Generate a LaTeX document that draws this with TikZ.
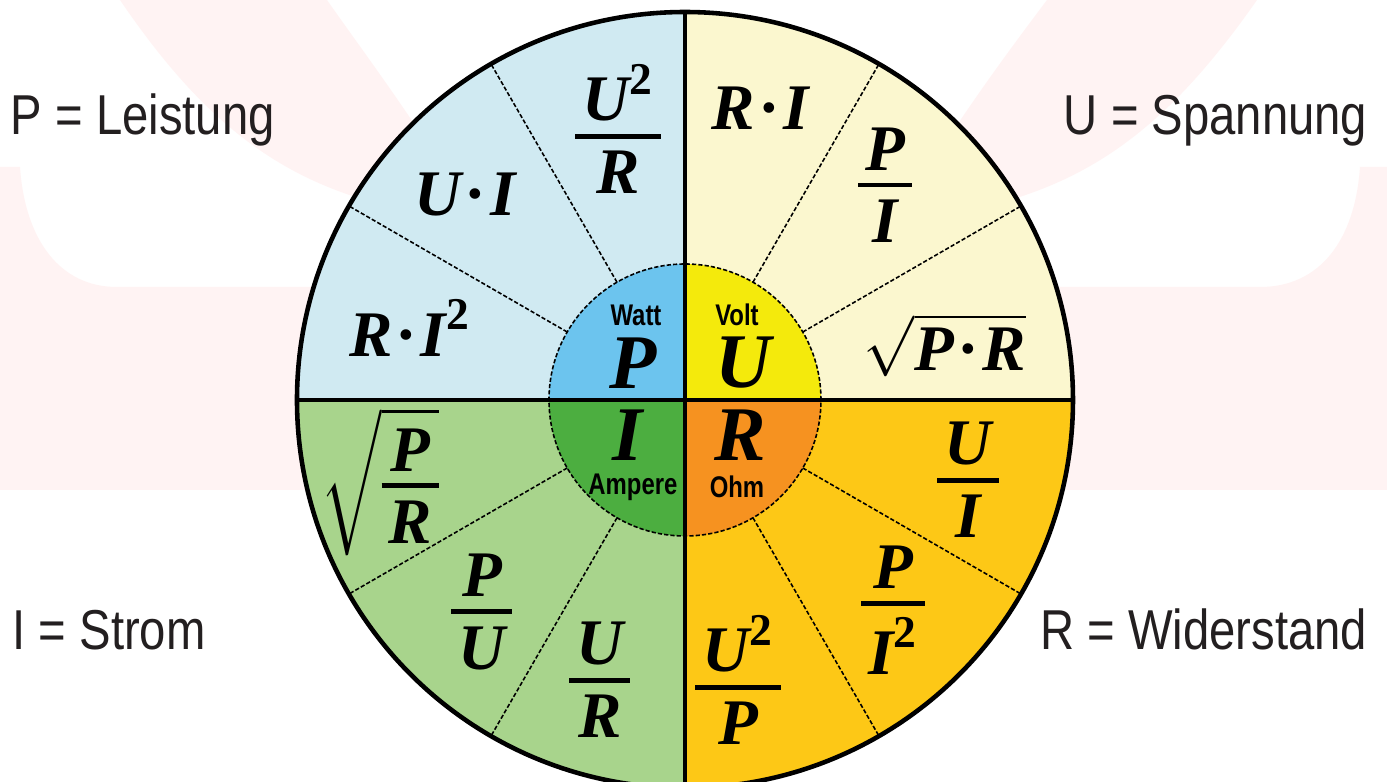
\documentclass[tikz,border=0pt]{standalone}
\usepackage{amsmath}
\usepackage{fontspec}
\setmainfont{Liberation Serif}
\newfontfamily\legendfont[FakeStretch=0.84]{Liberation Sans}
\newfontfamily\unitfont[FakeStretch=0.8]{Liberation Sans}
\definecolor{wmpink}{RGB}{255,243,243}
\definecolor{quadblue}{RGB}{208,234,242}
\definecolor{quadyellow}{RGB}{251,247,207}
\definecolor{quadgreen}{RGB}{168,212,140}
\definecolor{quadgold}{RGB}{253,200,22}
\definecolor{hubblue}{RGB}{108,196,238}
\definecolor{hubyellow}{RGB}{244,234,12}
\definecolor{hubgreen}{RGB}{76,174,64}
\definecolor{huborange}{RGB}{246,146,32}
\definecolor{legendgray}{RGB}{35,31,32}

\newcommand{\fv}[1]{\text{\bfseries\itshape #1}}
\newcommand{\fsq}{^{\text{\bfseries 2}}}
\newcommand{\fdot}{\mkern1mu\text{\bfseries\textperiodcentered}\mkern1mu}
\newcommand{\ffrac}[2]{\vcenter{\halign{\hfil\kern2pt##\kern2pt\hfil\cr$#1$\cr\noalign{\kern3.5pt\hrule height 1.4pt\kern3.5pt}$#2$\cr}}}

\begin{document}
\begin{tikzpicture}[
  legend/.style={font=\legendfont\fontsize{16}{19}\selectfont, text=legendgray, inner sep=0pt},
  formula/.style={font=\fontsize{18.5}{22}\selectfont, inner sep=0pt},
  bigletter/.style={font=\fontsize{22}{26}\selectfont\bfseries\itshape, inner sep=0pt},
  unitlabel/.style={font=\unitfont\bfseries\fontsize{8.5}{10}\selectfont, inner sep=0pt},
  spoke/.style={line width=0.45pt, dash pattern=on 1.2pt off 0.6pt},
]
% Canvas (1cm = 100px, origin at the wheel centre)
\useasboundingbox (-6.85,-3.82) rectangle (7.02,4.00);
\fill[white] (-6.85,-3.82) rectangle (7.02,4.00);

% Watermark
\fill[wmpink] (-6.85,2.33) -- (-6.65,2.33) .. controls (-6.60,1.60) and (-6.25,1.13) .. (-5.68,1.13) -- (5.75,1.13) .. controls (6.35,1.13) and (6.70,1.60) .. (6.75,2.33) -- (7.02,2.33) -- (7.02,-0.90) -- (-6.85,-0.90) -- cycle;
\fill[wmpink] (-5.65,4.00) .. controls (-4.90,2.90) and (-4.20,2.30) .. (-3.20,2.00) -- (-2.00,1.80) -- (-2.60,2.60) .. controls (-3.00,3.20) and (-3.30,3.60) .. (-3.58,4.00) -- cycle;
\fill[wmpink] (5.72,4.00) .. controls (4.95,2.90) and (4.25,2.30) .. (3.25,2.00) -- (2.00,1.80) -- (2.62,2.60) .. controls (3.02,3.20) and (3.32,3.60) .. (3.62,4.00) -- cycle;

% Outer quadrants
\fill[quadyellow] (0,0) -- (0:3.88) arc[start angle=0, end angle=90, radius=3.88] -- cycle;
\fill[quadblue] (0,0) -- (90:3.88) arc[start angle=90, end angle=180, radius=3.88] -- cycle;
\fill[quadgreen] (0,0) -- (180:3.88) arc[start angle=180, end angle=270, radius=3.88] -- cycle;
\fill[quadgold] (0,0) -- (270:3.88) arc[start angle=270, end angle=360, radius=3.88] -- cycle;

% Hub quadrants
\fill[hubyellow] (0,0) -- (0:1.36) arc[start angle=0, end angle=90, radius=1.36] -- cycle;
\fill[hubblue] (0,0) -- (90:1.36) arc[start angle=90, end angle=180, radius=1.36] -- cycle;
\fill[hubgreen] (0,0) -- (180:1.36) arc[start angle=180, end angle=270, radius=1.36] -- cycle;
\fill[huborange] (0,0) -- (270:1.36) arc[start angle=270, end angle=360, radius=1.36] -- cycle;

% Rim and hub
\node[circle, draw, line width=1.3pt, minimum size=7.76cm, inner sep=0pt, outer sep=0pt] (rim) at (0,0) {};
\node[circle, draw, spoke, minimum size=2.72cm, inner sep=0pt, outer sep=0pt] (hub) at (0,0) {};

% Spokes
\foreach \a in {30,60,120,150,210,240,300,330}
  \draw[spoke] (hub.\a) -- (rim.\a);

% Axes
\draw[line width=0.9pt] (rim.west) -- (rim.east);
\draw[line width=0.9pt] (rim.south) -- (rim.north);

% Hub letters
\node[unitlabel] (unitP) at (-0.49,0.85) {Watt};
\node[bigletter] (hubP) at (-0.52,0.37) {P};
\node[unitlabel] (unitU) at (0.52,0.85) {Volt};
\node[bigletter] (hubU) at (0.58,0.37) {U};
\node[bigletter] (hubI) at (-0.57,-0.35) {I};
\node[unitlabel] (unitI) at (-0.52,-0.87) {Ampere};
\node[bigletter] (hubR) at (0.55,-0.35) {R};
\node[unitlabel] (unitR) at (0.52,-0.87) {Ohm};

% Power
\node[formula] (pUR) at (-0.67,2.71) {$\ffrac{\fv{U}\fsq}{\fv{R}}$};
\node[formula] (pUI) at (-2.20,2.05) {$\fv{U}\fdot\fv{I}$};
\node[formula] (pRI) at (-2.75,0.72) {$\fv{R}\fdot\fv{I}\fsq$};

% Voltage
\node[formula] (uRI) at (0.75,2.92) {$\fv{R}\fdot\fv{I}$};
\node[formula] (uPI) at (2.00,2.15) {$\ffrac{\fv{P}}{\fv{I}}$};
\node[formula] (uPR) at (2.60,0.55) {$\sqrt{\fv{P}\fdot\fv{R}}$};

% Resistance
\node[formula] (rUI) at (2.83,-0.80) {$\ffrac{\fv{U}}{\fv{I}}$};
\node[formula] (rPI) at (2.08,-2.10) {$\ffrac{\fv{P}}{\fv{I}\fsq}$};
\node[formula] (rUP) at (0.53,-2.80) {$\ffrac{\fv{U}\fsq}{\fv{P}}$};

% Current
\node[formula] (iPR) at (-3.05,-0.82) {$\sqrt{\ffrac{\fv{P}}{\fv{R}}}$};
\node[formula] (iPU) at (-2.03,-2.12) {$\ffrac{\fv{P}}{\fv{U}}$};
\node[formula] (iUR) at (-0.85,-2.80) {$\ffrac{\fv{U}}{\fv{R}}$};

% Legend
\node[legend, anchor=base west] (powerlbl) at (-6.75,2.65) {P = Leistung};
\node[legend, anchor=base east] (voltlbl) at (6.83,2.65) {U = Spannung};
\node[legend, anchor=base west] (currentlbl) at (-6.73,-2.50) {I = Strom};
\node[legend, anchor=base east] (reslbl) at (6.83,-2.50) {R = Widerstand};
\end{tikzpicture}
\end{document}
